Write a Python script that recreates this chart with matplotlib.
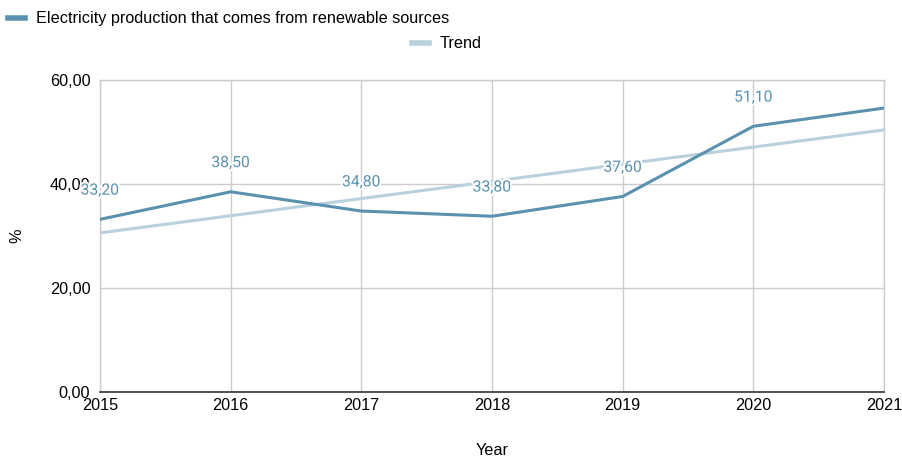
import matplotlib
matplotlib.use("Agg")
import matplotlib.pyplot as plt
import matplotlib.patheffects as pe
from matplotlib.lines import Line2D

plt.rcParams['font.family'] = ['Liberation Sans', 'DejaVu Sans']

years = [2015, 2016, 2017, 2018, 2019, 2020, 2021]
renewable = [33.2, 38.5, 34.8, 33.8, 37.6, 51.1, 54.6]
labels = ["33,20", "38,50", "34,80", "33,80", "37,60", "51,10", None]
trend_years = [2015, 2021]
trend_values = [30.6, 50.4]
y_ticks = [0, 20, 40, 60]
y_ticklabels = ["0,00", "20,00", "40,00", "60,00"]

main_color = "#5a91ae"
trend_color = "#b9d1dd"
grid_color = "#cccccc"
fs = 11.7

fig = plt.figure(figsize=(9.02, 4.59), dpi=100)
W, H = 902, 459
ax = fig.add_axes([100 / W, 1 - 392 / H, 784 / W, 312 / H])

ax.plot(trend_years, trend_values, color=trend_color, lw=2.2, zorder=3, solid_capstyle='butt')
ax.plot(years, renewable, color=main_color, lw=2.2, zorder=4, solid_capstyle='butt')

for x, y, t in zip(years, renewable, labels):
    if t is None:
        continue
    ax.annotate(t, (x, y), xytext=(0, 21), textcoords='offset points', ha='center', va='center',
                fontsize=11.3, color=main_color, zorder=5, family=['Roboto', 'DejaVu Sans'],
                path_effects=[pe.withStroke(linewidth=3, foreground='white')])

ax.set_xlim(2015, 2021)
ax.set_ylim(0, 60)
ax.set_xticks(years)
ax.set_xticklabels([str(y) for y in years], fontsize=fs)
ax.set_yticks(y_ticks)
ax.set_yticklabels(y_ticklabels, fontsize=fs)
ax.tick_params(length=0, pad=4)
ax.tick_params(axis='y', pad=7)
ax.grid(True, color=grid_color, lw=1)
ax.set_axisbelow(True)
for s in ['top', 'right', 'left']:
    ax.spines[s].set_color(grid_color)
    ax.spines[s].set_linewidth(1)
ax.spines['bottom'].set_color('#333333')
ax.spines['bottom'].set_linewidth(1.2)
ax.spines['bottom'].set_zorder(6)

ax.set_xlabel("Year", fontsize=fs, labelpad=22)
ax.set_ylabel("%", fontsize=fs, labelpad=18)

h1 = Line2D([], [], color=main_color, lw=4)
h2 = Line2D([], [], color=trend_color, lw=4)
leg1 = fig.legend([h1], ["Electricity production that comes from renewable sources"],
                  loc='center left', bbox_to_anchor=(1.5 / W, 1 - 19 / H), frameon=False,
                  fontsize=fs, handlelength=1.05, handletextpad=0.68, borderaxespad=0)
leg2 = fig.legend([h2], ["Trend"], loc='center left', bbox_to_anchor=(405.5 / W, 1 - 44 / H),
                  frameon=False, fontsize=fs, handlelength=1.05, handletextpad=0.68, borderaxespad=0)

fig.savefig("out.png", dpi=100)
